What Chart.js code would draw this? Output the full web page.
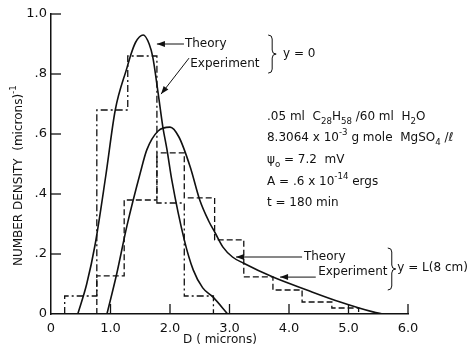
<!DOCTYPE html>
<html>
<head>
<meta charset="utf-8">
<script src="https://cdn.jsdelivr.net/npm/chart.js@4.4.1/dist/chart.umd.min.js"></script>
<style>
  html, body { margin: 0; padding: 0; background: #fff; }
  #wrap { width: 473px; height: 352px; }
</style>
</head>
<body>
<div id="wrap"><canvas id="densityChart" width="473" height="352"></canvas></div>
<script>
// Experiment histograms: bin edges (microns) and bin heights
const edgesY0 = [0.23, 0.77, 1.29, 1.78, 2.24, 2.73];
const countsY0 = [0.06, 0.68, 0.86, 0.37, 0.06];
const edgesYL = [0.77, 1.23, 1.78, 2.24, 2.75, 3.24, 3.73, 4.22, 4.72, 5.17];
const countsYL = [0.127, 0.38, 0.537, 0.387, 0.247, 0.124, 0.08, 0.04, 0.02];

// Theory curves, points
const theoryY0D = [0.45, 0.60, 0.74, 0.92, 1.08, 1.28, 1.33, 1.42, 1.55, 1.65, 1.71, 1.80, 1.88, 1.95, 2.03, 2.24, 2.39, 2.55, 2.72, 2.97];
const theoryY0N = [0, 0.10, 0.23, 0.46, 0.68, 0.823, 0.857, 0.905, 0.93, 0.90, 0.857, 0.737, 0.623, 0.547, 0.447, 0.247, 0.147, 0.087, 0.057, 0];
const theoryYLD = [0.94, 1.10, 1.28, 1.50, 1.61, 1.80, 2.00, 2.15, 2.34, 2.50, 2.65, 2.76, 2.89, 3.05, 3.23, 3.73, 4.30, 4.86, 5.41, 5.58];
const theoryYLN = [0, 0.13, 0.297, 0.47, 0.547, 0.61, 0.623, 0.59, 0.49, 0.38, 0.31, 0.27, 0.223, 0.19, 0.17, 0.123, 0.08, 0.04, 0.007, 0];

const xTicks = [0, 1, 2, 3, 4, 5, 6];
const yTicks = [0, 0.2, 0.4, 0.6, 0.8, 1.0];

const FONT = "'DejaVu Sans', sans-serif";

function stepPoints(edges, counts) {
  const pts = [{ x: edges[0], y: 0 }];
  edges.forEach((e, i) => pts.push({ x: e, y: i < counts.length ? counts[i] : 0 }));
  return pts;
}

function curvePoints(xs, ys) {
  return xs.map((x, i) => ({ x: x, y: ys[i] }));
}

// draws text made of normal / sub / sup pieces, left aligned
function drawRich(ctx, x, y, parts, size) {
  ctx.textBaseline = "middle";
  ctx.textAlign = "left";
  parts.forEach(([txt, mode]) => {
    let s = size, dy = 0;
    if (mode === "sub") { s = size * 0.72; dy = size * 0.38; }
    if (mode === "sup") { s = size * 0.72; dy = -size * 0.42; }
    ctx.font = s + "px " + FONT;
    ctx.fillText(txt, x, y + dy);
    x += ctx.measureText(txt).width;
  });
}

function drawArrow(ctx, x1, y1, x2, y2) {
  ctx.beginPath();
  ctx.moveTo(x1, y1);
  ctx.lineTo(x2, y2);
  ctx.stroke();
  const a = Math.atan2(y2 - y1, x2 - x1);
  ctx.beginPath();
  ctx.moveTo(x2, y2);
  ctx.lineTo(x2 - 8 * Math.cos(a) + 3 * Math.sin(a), y2 - 8 * Math.sin(a) - 3 * Math.cos(a));
  ctx.lineTo(x2 - 8 * Math.cos(a) - 3 * Math.sin(a), y2 - 8 * Math.sin(a) + 3 * Math.cos(a));
  ctx.closePath();
  ctx.fill();
}

function drawBrace(ctx, x, yTop, yBot) {
  const w = 8, h = w / 2, yMid = (yTop + yBot) / 2;
  ctx.beginPath();
  ctx.moveTo(x, yTop);
  ctx.quadraticCurveTo(x + h, yTop, x + h, yTop + 4);
  ctx.lineTo(x + h, yMid - 4);
  ctx.quadraticCurveTo(x + h, yMid, x + w, yMid);
  ctx.quadraticCurveTo(x + h, yMid, x + h, yMid + 4);
  ctx.lineTo(x + h, yBot - 4);
  ctx.quadraticCurveTo(x + h, yBot, x, yBot);
  ctx.stroke();
}

// ticks drawn inward, axis titles and the annotations
const figureNotes = {
  id: "figureNotes",
  afterDraw(chart) {
    const ctx = chart.ctx;
    const xs = chart.scales.x, ys = chart.scales.y;
    const X = (v) => xs.getPixelForValue(v);
    const Y = (v) => ys.getPixelForValue(v);
    ctx.save();
    ctx.strokeStyle = "#111";
    ctx.fillStyle = "#111";
    ctx.lineWidth = 1.3;

    yTicks.slice(1).forEach((v) => {
      ctx.beginPath();
      ctx.moveTo(xs.left, Y(v));
      ctx.lineTo(xs.left + 10, Y(v));
      ctx.stroke();
    });
    xTicks.slice(1).forEach((v) => {
      ctx.beginPath();
      ctx.moveTo(X(v), ys.bottom);
      ctx.lineTo(X(v), ys.bottom - 10);
      ctx.stroke();
    });

    // axis titles
    drawRich(ctx, X(2.22), 340, [["D ( microns)", ""]], 12);
    ctx.save();
    ctx.translate(19, 176);
    ctx.rotate(-Math.PI / 2);
    ctx.font = "12px " + FONT;
    const tw = ctx.measureText("NUMBER DENSITY  (microns)").width + 8;
    drawRich(ctx, -tw / 2, 0, [["NUMBER DENSITY  (microns)", ""], ["-1", "sup"]], 12);
    ctx.restore();

    ctx.lineWidth = 1;
    // y = 0 labels
    drawArrow(ctx, X(2.235), Y(0.90), X(1.78), Y(0.90));
    drawRich(ctx, X(2.25), Y(0.90), [["Theory", ""]], 12);
    drawArrow(ctx, X(2.32), Y(0.853), X(1.85), Y(0.733));
    drawRich(ctx, X(2.34), Y(0.833), [["Experiment", ""]], 12);
    drawBrace(ctx, X(3.65), Y(0.93), Y(0.803));
    drawRich(ctx, X(3.90), Y(0.867), [["y = 0", ""]], 12);

    // y = L labels
    drawArrow(ctx, X(4.22), Y(0.19), X(3.11), Y(0.19));
    drawRich(ctx, X(4.25), Y(0.19), [["Theory", ""]], 12);
    drawArrow(ctx, X(4.45), Y(0.123), X(3.85), Y(0.123));
    drawRich(ctx, X(4.49), Y(0.14), [["Experiment", ""]], 12);
    drawBrace(ctx, X(5.66), Y(0.22), Y(0.08));
    drawRich(ctx, X(5.82), Y(0.153), [["y = L(8 cm)", ""]], 12);

    // conditions
    const lines = [
      [[".05 ml  C", ""], ["28", "sub"], ["H", ""], ["58", "sub"], [" /60 ml  H", ""], ["2", "sub"], ["O", ""]],
      [["8.3064 x 10", ""], ["-3", "sup"], [" g mole  MgSO", ""], ["4", "sub"], [" /\u2113", ""]],
      [["\u03c8", ""], ["o", "sub"], [" = 7.2  mV", ""]],
      [["A = .6 x 10", ""], ["-14", "sup"], [" ergs", ""]],
      [["t = 180 min", ""]]
    ];
    const rows = [0.657, 0.587, 0.513, 0.44, 0.37];
    lines.forEach((ln, i) => drawRich(ctx, X(3.63), Y(rows[i]), ln, 12));
    ctx.restore();
  }
};

new Chart(document.getElementById("densityChart"), {
  type: "line",
  data: {
    datasets: [
      {
        label: "Theory y=0",
        data: curvePoints(theoryY0D, theoryY0N),
        borderColor: "#111",
        borderWidth: 1.6,
        cubicInterpolationMode: "monotone",
        pointRadius: 0
      },
      {
        label: "Theory y=L",
        data: curvePoints(theoryYLD, theoryYLN),
        borderColor: "#111",
        borderWidth: 1.6,
        cubicInterpolationMode: "monotone",
        pointRadius: 0
      },
      {
        label: "Experiment y=0",
        data: stepPoints(edgesY0, countsY0),
        borderColor: "#111",
        borderWidth: 1.3,
        borderDash: [7, 3, 2, 3],
        stepped: "before",
        pointRadius: 0
      },
      {
        label: "Experiment y=L",
        data: stepPoints(edgesYL, countsYL),
        borderColor: "#111",
        borderWidth: 1.3,
        borderDash: [6, 3],
        stepped: "before",
        pointRadius: 0
      }
    ]
  },
  options: {
    responsive: false,
    animation: false,
    devicePixelRatio: 1,
    layout: { padding: { top: 14, right: 65, left: 0, bottom: 0 } },
    plugins: { legend: { display: false }, tooltip: { enabled: false } },
    scales: {
      x: {
        type: "linear",
        min: 0,
        max: 6,
        afterFit: (s) => { s.height = 38; },
        afterBuildTicks: (s) => { s.ticks = xTicks.map((v) => ({ value: v })); },
        grid: { drawOnChartArea: false, drawTicks: false },
        border: { color: "#111", width: 1.5 },
        ticks: {
          padding: 7,
          color: "#111",
          font: { family: FONT, size: 13 },
          callback: (v) => (v === 0 ? "0" : v.toFixed(1))
        }
      },
      y: {
        type: "linear",
        min: 0,
        max: 1,
        afterFit: (s) => { s.width = 51; },
        afterBuildTicks: (s) => { s.ticks = yTicks.map((v) => ({ value: v })); },
        grid: { drawOnChartArea: false, drawTicks: false },
        border: { color: "#111", width: 1.5 },
        ticks: {
          padding: 4,
          color: "#111",
          font: { family: FONT, size: 13 },
          callback: (v) => (v === 0 ? "0" : v >= 1 ? "1.0" : v.toFixed(1).replace(/^0/, ""))
        }
      }
    }
  },
  plugins: [figureNotes]
});
</script>
</body>
</html>
